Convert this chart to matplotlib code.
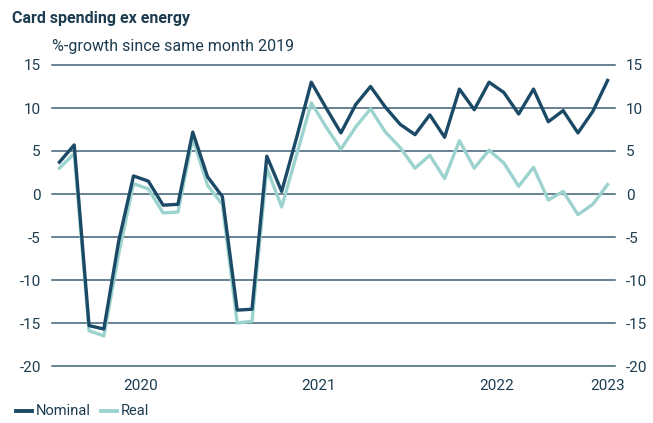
import numpy as np
import matplotlib
matplotlib.use("Agg")
import matplotlib.pyplot as plt

# monthly, Jan 2020 - Feb 2023, %-growth vs same month 2019
nominal = [3.7, 5.7, -15.3, -15.7, -5.5, 2.1, 1.5, -1.3, -1.2, 7.2, 2.0, -0.3,
           -13.5, -13.4, 4.4, 0.3, 6.5, 13.0, 10.0, 7.1, 10.4, 12.5, 10.1, 8.1,
           6.9, 9.2, 6.6, 12.2, 9.8, 13.0, 11.8, 9.3, 12.2, 8.4, 9.7, 7.1, 9.6, 13.2]
real = [3.0, 4.7, -15.9, -16.5, -7.0, 1.2, 0.6, -2.2, -2.1, 6.5, 1.0, -1.2,
        -15.0, -14.8, 3.0, -1.5, 4.5, 10.6, 7.8, 5.2, 7.8, 9.9, 7.2, 5.4,
        3.0, 4.5, 1.8, 6.2, 3.0, 5.1, 3.6, 0.9, 3.1, -0.7, 0.3, -2.4, -1.2, 1.1]
year_labels = ["2020", "2021", "2022", "2023"]
year_pos = [5.5, 17.5, 29.5, 37]
yticks = [15, 10, 5, 0, -5, -10, -15, -20]

navy = "#1b4a66"
teal = "#9dd3cf"
txt = "#1d3c50"
grid = "#3f6175"

plt.rcParams['font.family'] = ['Roboto', 'DejaVu Sans']

fig = plt.figure(figsize=(6.53, 4.23), dpi=100)
ax = fig.add_axes([52/653, 1-366/423, (615-52)/653, (366-65)/423])

x = np.arange(len(nominal))
for v in yticks:
    ax.axhline(v, color=grid, lw=1.1, zorder=1, clip_on=False)
ax.plot(x, real, color=teal, lw=2.4, zorder=3)
ax.plot(x, nominal, color=navy, lw=2.4, zorder=4)

ax.set_xlim(-0.5, 37.5)
ax.set_ylim(-20, 15)
ax.set_yticks(yticks)
ax.set_yticklabels([str(v) for v in yticks])
ax.set_xticks(year_pos)
ax.set_xticklabels(year_labels)
ax.tick_params(axis='y', length=0, pad=8, labelsize=11, colors=txt,
               labelleft=True, labelright=True)
ax.tick_params(axis='x', length=0, pad=9, labelsize=11, colors=txt)
for s in ax.spines.values():
    s.set_visible(False)

fig.text(12/653, 1-18/423, "Card spending ex energy", fontsize=11.5, fontweight='bold',
         color=txt, va='center', ha='left')
fig.text(52/653, 1-47/423, "%-growth since same month 2019", fontsize=11.5,
         color=txt, va='center', ha='left')

# legend
ly = 1 - 411/423
fig.add_artist(plt.Line2D([16/653, 32/653], [ly, ly], color=navy, lw=2.8))
fig.text(36/653, ly, "Nominal", fontsize=10.5, color=txt, va='center', ha='left')
fig.add_artist(plt.Line2D([101/653, 117/653], [ly, ly], color=teal, lw=2.8))
fig.text(121/653, ly, "Real", fontsize=10.5, color=txt, va='center', ha='left')

fig.savefig("out.png", dpi=100)
